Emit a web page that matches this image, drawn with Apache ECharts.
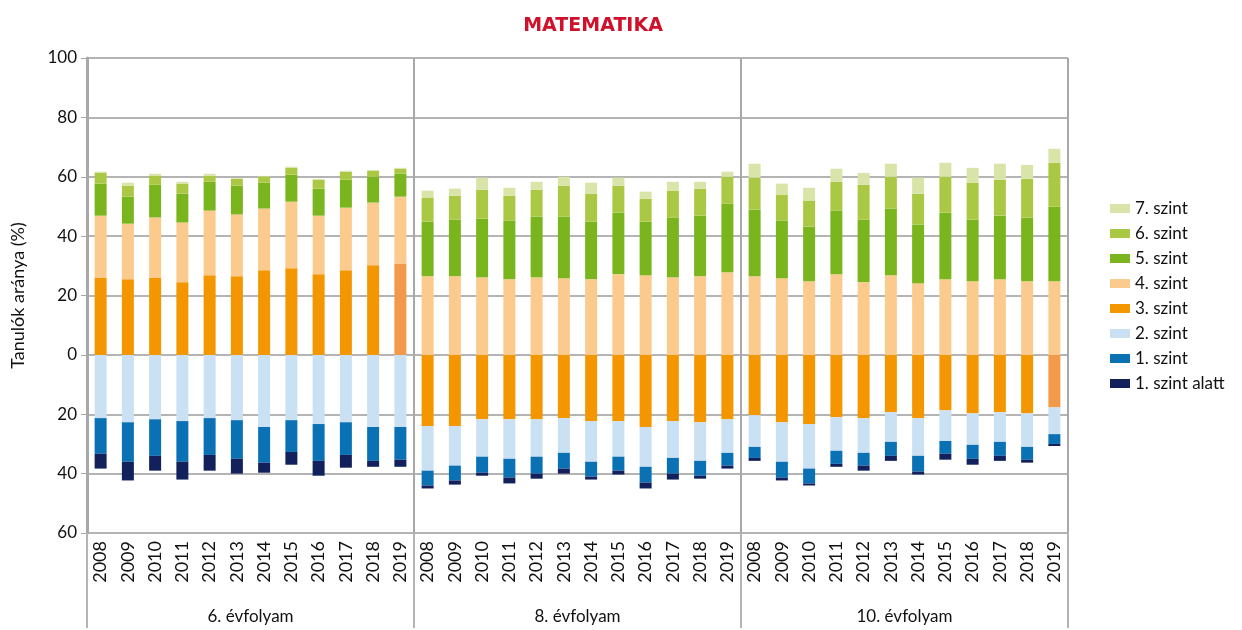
<!DOCTYPE html>
<html>
<head>
<meta charset="utf-8">
<script src="https://cdn.jsdelivr.net/npm/echarts@6/dist/echarts.min.js"></script>
<style>
  html, body { margin: 0; padding: 0; background: #fff; }
  #chart { width: 1242px; height: 630px; }
</style>
</head>
<body>
<div id="chart"></div>
<script>
  // évfolyamok és évek
  const groups = ['6. évfolyam', '8. évfolyam', '10. évfolyam']
  const years = ['2008', '2009', '2010', '2011', '2012', '2013', '2014', '2015', '2016', '2017', '2018', '2019']
  // az első szint, amely a 0 fölé kerül (6.: 3. szint, 8. és 10.: 4. szint)
  const firstAbove = [3, 4, 4]
  const yTicks = [-60, -40, -20, 0, 20, 40, 60, 80, 100]

  // arányok (%), 6. | 8. | 10. évfolyam, évenként
  const szint7 = [
    0.4, 1.0, 0.6, 0.6, 0.7, 0.2, 0.2, 0.4, 0.3, 0.3, 0.3, 0.3,
    2.3, 2.4, 4.1, 2.7, 2.7, 3.0, 3.7, 2.7, 2.4, 3.0, 2.4, 1.7,
    4.7, 3.7, 4.3, 4.4, 4.0, 4.4, 5.4, 4.7, 5.0, 5.4, 4.7, 4.7
  ]
  const szint6 = [
    3.6, 3.7, 3.1, 3.4, 2.0, 2.3, 2.1, 2.3, 3.0, 2.7, 2.0, 1.7,
    8.1, 8.0, 9.7, 8.3, 9.0, 10.4, 9.4, 9.1, 7.7, 9.0, 9.0, 9.1,
    10.8, 8.7, 8.8, 9.7, 11.7, 10.7, 10.4, 12.1, 12.4, 12.1, 13.0, 14.8
  ]
  const szint5 = [
    10.8, 9.1, 11.0, 9.7, 9.7, 9.7, 8.7, 9.1, 9.1, 9.4, 8.7, 7.7,
    18.4, 19.1, 19.8, 19.8, 20.5, 20.8, 19.4, 20.7, 18.1, 20.2, 20.4, 23.1,
    22.4, 19.5, 18.4, 21.4, 21.1, 22.5, 19.8, 22.4, 20.8, 21.4, 21.5, 25.1
  ]
  const szint4 = [
    21.0, 18.7, 20.4, 20.1, 21.8, 20.8, 20.8, 22.4, 19.7, 21.1, 21.1, 22.5,
    26.5, 26.5, 26.1, 25.5, 26.1, 25.8, 25.5, 27.2, 26.8, 26.1, 26.5, 27.8,
    26.5, 25.8, 24.8, 27.2, 24.5, 26.8, 24.1, 25.5, 24.8, 25.5, 24.8, 24.8
  ]
  const szint3 = [
    25.9, 25.5, 25.9, 24.5, 26.8, 26.5, 28.5, 29.2, 27.2, 28.5, 30.2, 30.8,
    24.0, 24.0, 21.7, 21.7, 21.7, 21.3, 22.3, 22.3, 24.3, 22.3, 22.7, 21.7,
    20.3, 22.7, 23.3, 21.0, 21.3, 19.3, 21.3, 18.7, 19.7, 19.3, 19.7, 17.7
  ]
  const szint2 = [
    21.3, 22.7, 21.7, 22.3, 21.3, 22.0, 24.3, 22.0, 23.3, 22.7, 24.3, 24.3,
    15.0, 13.3, 12.6, 13.3, 12.6, 11.7, 13.7, 12.0, 13.4, 12.4, 13.0, 11.3,
    10.7, 13.3, 15.0, 11.3, 11.7, 10.0, 12.7, 10.3, 10.6, 10.0, 11.3, 9.0
  ]
  const szint1 = [
    12.0, 13.3, 12.3, 13.7, 12.4, 13.0, 12.0, 10.7, 12.4, 11.0, 11.4, 11.0,
    5.0, 5.0, 5.4, 6.3, 5.7, 5.3, 5.0, 4.7, 5.3, 5.3, 5.0, 4.3,
    3.7, 5.3, 5.0, 4.4, 4.3, 4.7, 5.3, 4.3, 4.7, 4.7, 4.3, 3.3
  ]
  const szint0 = [
    5.0, 6.3, 5.0, 6.0, 5.3, 5.0, 3.4, 4.3, 5.0, 4.3, 2.0, 2.4,
    1.0, 1.4, 1.0, 2.0, 1.7, 1.7, 1.0, 1.3, 2.0, 2.0, 1.0, 1.0,
    1.0, 1.0, 0.7, 1.0, 1.7, 1.7, 1.0, 2.0, 2.0, 1.7, 1.0, 0.7
  ]
  // kiemelt oszlopok (3. szint)
  const highlighted = [11, 35]

  const levels = [
    { name: '3. szint', level: 3, values: szint3, color: '#F49600' },
    { name: '4. szint', level: 4, values: szint4, color: '#FBCB8E' },
    { name: '5. szint', level: 5, values: szint5, color: '#7AB51E' },
    { name: '6. szint', level: 6, values: szint6, color: '#ABC845' },
    { name: '7. szint', level: 7, values: szint7, color: '#D9E4A9' },
    { name: '2. szint', level: 2, values: szint2, color: '#CAE0F3' },
    { name: '1. szint', level: 1, values: szint1, color: '#0B71B5' },
    { name: '1. szint alatt', level: 0, values: szint0, color: '#12215C' }
  ]

  let xData = []
  groups.forEach(() => { xData = xData.concat(years) })

  let series = levels.map(lv => ({
    name: lv.name,
    type: 'bar',
    stack: 'total',
    barWidth: 12,
    itemStyle: { color: lv.color },
    data: lv.values.map((v, i) => {
      let g = Math.floor(i / years.length)
      let val = lv.level >= firstAbove[g] ? v : -v
      if (lv.level === 3 && highlighted.indexOf(i) > -1) {
        return { value: val, itemStyle: { color: '#F2994A' } }
      }
      return val
    })
  }))

  let myChart = echarts.init(document.getElementById('chart'))
  myChart.setOption({
    backgroundColor: '#fff',
    animation: false,
    textStyle: { fontFamily: 'Lato, "DejaVu Sans", sans-serif' },
    title: {
      text: 'MATEMATIKA',
      left: 588,
      top: 12,
      textAlign: 'center',
      textStyle: { color: '#D0112B', fontSize: 19, fontWeight: 'bold', fontFamily: '"DejaVu Sans", sans-serif' }
    },
    legend: {
      orient: 'vertical',
      left: 1105,
      top: 195,
      itemWidth: 20,
      itemHeight: 9,
      itemGap: 8,
      icon: 'rect',
      data: ['7. szint', '6. szint', '5. szint', '4. szint', '3. szint', '2. szint', '1. szint', '1. szint alatt'],
      textStyle: { fontSize: 17, color: '#111' }
    },
    grid: { left: 87, right: 174, top: 58, bottom: 97 },
    xAxis: [
      {
        type: 'category',
        data: xData,
        axisLine: { show: false },
        axisTick: { show: false },
        axisLabel: { interval: 0, rotate: 90, fontSize: 18, color: '#111', margin: 8 }
      },
      {
        type: 'category',
        data: groups,
        position: 'bottom',
        axisLine: { show: false },
        axisTick: { show: true, interval: 0, length: 95, lineStyle: { color: '#b4b4b4', width: 2 } },
        axisLabel: { interval: 0, fontSize: 17, color: '#111', margin: 75 },
        splitLine: { show: true, interval: 0, lineStyle: { color: '#a8a8a8', width: 2 } }
      }
    ],
    yAxis: {
      type: 'value',
      min: yTicks[0],
      max: yTicks[yTicks.length - 1],
      interval: 20,
      name: 'Tanulók aránya (%)',
      nameLocation: 'middle',
      nameGap: 60,
      nameTextStyle: { fontSize: 18, color: '#111' },
      axisLine: { show: true, lineStyle: { color: '#a8a8a8', width: 3 } },
      axisTick: { show: true, length: 6, lineStyle: { color: '#a8a8a8', width: 1 } },
      axisLabel: { fontSize: 17, color: '#111', margin: 10, formatter: v => Math.abs(v) },
      splitLine: { lineStyle: { color: '#b4b4b4', width: 2 } }
    },
    series: series
  })
</script>
</body>
</html>
